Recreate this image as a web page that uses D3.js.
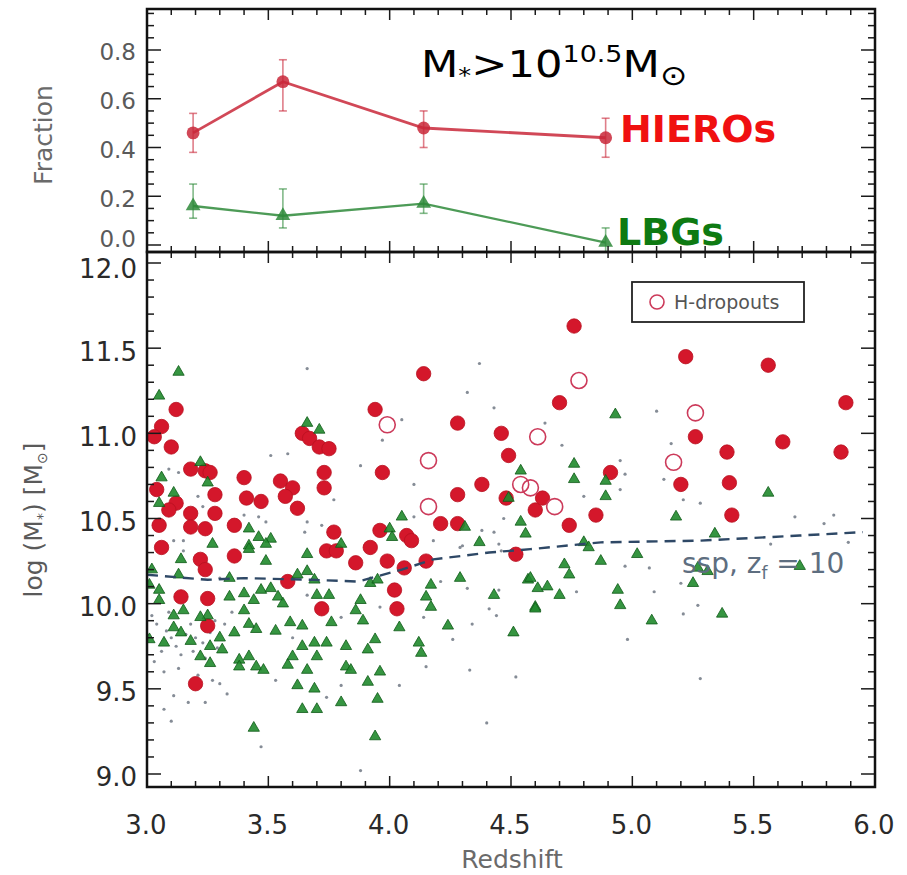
<!DOCTYPE html>
<html>
<head>
<meta charset="utf-8">
<script src="https://cdn.jsdelivr.net/npm/d3@7/dist/d3.min.js"></script>
<style>
  html, body { margin: 0; padding: 0; background: #ffffff; }
  svg { display: block; }
</style>
</head>
<body>
<svg id="chart" width="907" height="875"></svg>
<script>
// ---------- Top panel: fraction of massive galaxies per redshift bin ----------
const fracZ        = [3.19, 3.56, 4.14, 4.89];
const hieroFrac    = [0.46, 0.67, 0.48, 0.44];
const hieroFracLo  = [0.38, 0.55, 0.40, 0.36];
const hieroFracHi  = [0.54, 0.76, 0.55, 0.52];
const lbgFrac      = [0.16, 0.12, 0.17, 0.01];
const lbgFracLo    = [0.11, 0.07, 0.13, -0.03];
const lbgFracHi    = [0.25, 0.23, 0.25, 0.07];

// ---------- Bottom panel: stellar mass vs redshift, [z, log M*] ----------
const hieroPts = [
  [4.14,11.35],[3.12,11.14],[3.94,11.14],[4.28,11.06],[4.46,11.00],[3.06,11.04],[3.03,10.98],
  [3.10,10.92],[3.64,11.00],[3.67,10.97],[3.71,10.92],[3.75,10.91],[4.49,10.87],[3.18,10.79],
  [3.24,10.78],[3.26,10.77],[3.73,10.77],[3.97,10.77],[3.40,10.74],[3.55,10.72],[4.38,10.70],
  [3.60,10.68],[3.73,10.68],[3.04,10.67],[3.28,10.64],[4.28,10.64],[4.48,10.62],[3.41,10.62],
  [3.57,10.63],[3.47,10.60],[3.12,10.59],[3.09,10.55],[3.62,10.56],[3.18,10.53],[3.28,10.53],
  [4.60,10.55],[3.05,10.46],[3.18,10.45],[3.24,10.44],[3.36,10.46],[3.77,10.42],[3.96,10.43],
  [4.21,10.47],[4.28,10.47],[4.07,10.40],[4.09,10.37],[3.06,10.33],[3.92,10.33],[4.76,11.63],
  [5.22,11.45],[5.56,11.40],[5.88,11.18],[4.70,11.18],[5.26,10.98],[5.62,10.95],[5.39,10.89],
  [5.86,10.89],[4.91,10.77],[5.20,10.70],[5.40,10.71],[4.63,10.62],[4.85,10.52],[5.41,10.52],
  [4.74,10.46],[3.74,10.31],[3.78,10.31],[3.36,10.28],[3.22,10.26],[3.24,10.20],[3.86,10.24],
  [3.99,10.25],[4.15,10.25],[4.06,10.21],[4.52,10.29],[3.58,10.13],[4.02,10.08],[3.14,10.04],
  [3.25,10.03],[3.72,9.97],[4.03,9.97],[3.25,9.87],[3.20,9.53]
];

const hDropoutPts = [
  [3.99,11.05],[4.16,10.84],[4.16,10.57],[4.61,10.98],[4.54,10.70],[4.58,10.68],
  [4.78,11.31],[5.26,11.12],[5.17,10.83],[4.68,10.57]
];

const lbgPts = [
  [3.13,11.36],[3.05,11.22],[3.66,11.06],[3.71,11.02],[3.22,10.83],[3.06,10.74],[3.25,10.71],
  [3.11,10.65],[3.05,10.59],[4.54,10.78],[4.49,10.62],[4.05,10.51],[4.00,10.44],[4.31,10.45],
  [4.54,10.48],[4.56,10.41],[4.37,10.36],[3.42,10.44],[3.46,10.39],[3.51,10.38],[3.27,10.35],
  [3.49,10.35],[3.42,10.34],[3.80,10.35],[4.93,11.11],[4.76,10.82],[4.76,10.73],[4.89,10.72],
  [4.89,10.63],[5.56,10.65],[5.18,10.51],[5.34,10.41],[4.80,10.36],[3.66,10.29],[3.42,10.32],
  [3.14,10.26],[3.49,10.25],[3.13,10.17],[3.02,10.20],[3.01,10.11],[3.05,10.08],[3.34,10.15],
  [3.34,10.04],[3.40,10.06],[3.44,10.02],[3.47,10.08],[3.51,10.09],[3.54,10.04],[3.56,10.00],
  [3.62,10.17],[3.66,10.19],[3.69,10.14],[3.92,10.12],[3.95,10.14],[3.70,10.05],[3.75,10.05],
  [3.88,10.02],[3.86,9.96],[3.89,9.90],[3.76,9.89],[3.64,9.87],[3.59,9.89],[3.53,9.84],
  [3.40,9.96],[3.42,9.88],[3.45,9.85],[3.36,9.83],[3.30,9.80],[3.25,9.93],[3.22,9.92],
  [3.15,9.96],[3.11,9.93],[3.05,10.02],[3.01,9.79],[3.07,9.77],[3.11,9.86],[3.14,9.83],
  [3.18,9.78],[3.26,9.75],[3.22,9.69],[3.26,9.65],[3.31,9.73],[3.38,9.67],[3.42,9.69],
  [3.45,9.63],[3.48,9.61],[3.38,9.63],[3.58,9.64],[3.60,9.69],[3.64,9.75],[3.69,9.77],
  [3.74,9.77],[3.82,9.75],[3.70,9.69],[3.66,9.61],[3.82,9.63],[3.84,9.61],[3.91,9.73],
  [3.94,9.79],[3.96,9.60],[3.62,9.52],[3.69,9.50],[3.91,9.54],[3.80,9.42],[3.95,9.44],
  [3.64,9.38],[3.70,9.38],[3.44,9.27],[3.94,9.22],[4.04,9.86],[4.12,9.77],[4.13,9.71],
  [4.15,10.04],[4.17,9.98],[4.17,10.11],[4.29,10.15],[4.24,9.87],[4.43,10.05],[4.57,10.14],
  [4.60,9.98],[4.51,9.83],[4.01,10.39],[4.82,10.33],[4.87,10.25],[5.02,10.29],[4.72,10.23],
  [4.74,10.17],[4.58,10.15],[4.61,10.09],[4.65,10.10],[4.70,10.05],[4.60,9.97],[4.94,10.08],
  [4.95,9.99],[5.25,10.12],[5.27,10.21],[5.31,10.19],[5.08,9.90],[5.37,9.94],[5.69,10.22]
];

const allPts = [
  [3.66,11.38],[4.37,11.41],[4.32,11.24],[4.43,11.15],[4.05,11.08],[3.97,10.96],[3.51,10.87],
  [3.58,10.88],[3.88,10.81],[3.09,10.79],[3.13,10.77],[4.10,10.70],[3.21,10.63],[3.77,10.61],
  [3.23,10.57],[3.40,10.52],[3.46,10.51],[3.49,10.48],[3.66,10.48],[3.72,10.46],[4.38,10.43],
  [4.43,10.42],[4.10,10.51],[4.47,10.50],[3.15,10.37],[3.65,10.42],[4.18,10.37],[4.45,10.35],
  [4.30,10.34],[5.10,11.13],[4.64,11.06],[4.71,10.93],[5.16,10.94],[4.95,10.84],[4.97,10.76],
  [5.13,10.73],[4.95,10.67],[4.80,10.63],[5.21,10.61],[5.28,10.59],[5.67,10.51],[5.83,10.52],
  [5.79,10.47],[3.11,10.37],[3.15,10.31],[3.30,10.15],[3.47,9.16],[3.88,9.02],[4.40,9.30],
  [4.52,9.57],[4.33,9.61],[4.15,9.63],[4.04,9.52],[3.10,9.31],[3.07,9.38],[3.17,9.42],
  [3.24,9.42],[3.11,9.46],[3.33,9.47],[3.30,9.53],[3.53,9.55],[3.74,9.45],[3.80,9.52],
  [4.26,9.79],[4.34,9.88],[4.44,9.93],[4.41,9.97],[4.14,9.92],[4.32,10.09],[4.21,10.13],
  [4.46,10.31],[4.29,10.33],[3.80,9.92],[3.96,9.98],[3.66,10.05],[3.60,9.80],
  [3.04,9.88],[3.08,9.84],[3.10,9.80],[3.12,9.75],[3.16,9.82],[3.18,9.88],[3.20,9.80],
  [3.23,9.77],[3.26,9.83],[3.28,9.90],[3.14,9.70],[3.06,9.72],[3.02,9.93],[3.09,9.95],
  [3.19,9.72],[3.24,9.68],[3.29,9.74],[3.32,9.88],[3.35,9.95],[3.13,9.62],[3.07,9.60],
  [3.03,9.66],[3.21,9.58],[3.27,9.55],
  [5.89,10.36],[5.57,10.35],[4.97,10.22],[5.07,10.21],[4.77,10.07],[5.09,10.07],[5.20,10.12],
  [5.21,9.94],[5.27,9.99],[4.98,9.79],[5.28,9.56],[4.45,10.08]
];

// Single stellar population track, formation redshift 10
const sspZ = [3.00, 3.25, 3.40, 3.68, 3.87, 4.05, 4.18, 4.41, 4.58, 4.87, 5.28, 5.69, 5.95];
const sspM = [10.17, 10.14, 10.15, 10.14, 10.13, 10.20, 10.26, 10.30, 10.32, 10.36, 10.37, 10.40, 10.42];

// Axis ticks
const xTickVals    = [3.0, 3.5, 4.0, 4.5, 5.0, 5.5, 6.0];
const fracTickVals = [0.0, 0.2, 0.4, 0.6, 0.8];
const massTickVals = [9.0, 9.5, 10.0, 10.5, 11.0, 11.5, 12.0];

// ---------- Layout ----------
const svg = d3.select("#chart");
const L = 147, R = 875;
const topY0 = 9, topY1 = 252;      // fraction panel frame
const botY0 = 252, botY1 = 787;    // mass panel frame

const x  = d3.scaleLinear().domain([3, 6]).range([L, R]);
const yF = d3.scaleLinear().domain([0, 0.8]).range([245, 50]);
const yM = d3.scaleLinear().domain([9, 12]).range([774, 263]);

const AXIS_FONT = "'DejaVu Sans', sans-serif";
const RED = "#d4172b", GREEN = "#208a2c";

const defs = svg.append("defs");
defs.append("clipPath").attr("id", "clipTop")
  .append("rect").attr("x", L).attr("y", topY0).attr("width", R - L).attr("height", topY1 - topY0);
defs.append("clipPath").attr("id", "clipBot")
  .append("rect").attr("x", L).attr("y", botY0).attr("width", R - L).attr("height", botY1 - botY0);

// Inward ticks on all four sides of a panel
function panelTicks(g, yScale, y0, y1, yMajorStep, yMinorStep) {
  const xMinor = d3.range(30, 61).map(v => v / 10);
  xMinor.forEach(v => {
    const major = Math.abs(v * 2 - Math.round(v * 2)) < 1e-6;
    const len = major ? 11 : 6;
    g.append("line").attr("x1", x(v)).attr("x2", x(v)).attr("y1", y1).attr("y2", y1 - len);
    g.append("line").attr("x1", x(v)).attr("x2", x(v)).attr("y1", y0).attr("y2", y0 + len);
  });
  const vLo = yScale.invert(y1), vHi = yScale.invert(y0);
  const n0 = Math.ceil(vLo / yMinorStep - 1e-6), n1 = Math.floor(vHi / yMinorStep + 1e-6);
  for (let i = n0; i <= n1; i++) {
    const v = i * yMinorStep;
    const r = v / yMajorStep;
    const major = Math.abs(r - Math.round(r)) < 1e-6;
    const len = major ? 14 : 7;
    const yy = yScale(v);
    if (yy <= y0 + 1 || yy >= y1 - 1) continue;
    g.append("line").attr("x1", L).attr("x2", L + len).attr("y1", yy).attr("y2", yy);
    g.append("line").attr("x1", R).attr("x2", R - len).attr("y1", yy).attr("y2", yy);
  }
}

// ---------- Top panel ----------
const gTop = svg.append("g");
const gTopData = gTop.append("g").attr("clip-path", "url(#clipTop)");

function fracSeries(vals, lo, hi, color, symbolType, symSize, lineW) {
  const line = d3.line().x((d, i) => x(fracZ[i])).y(d => yF(d));
  gTopData.append("path").datum(vals).attr("d", line)
    .attr("fill", "none").attr("stroke", color).attr("stroke-width", lineW).attr("stroke-opacity", 0.85);
  const eb = gTopData.append("g").attr("stroke", color).attr("stroke-width", 1.6).attr("stroke-opacity", 0.6);
  vals.forEach((v, i) => {
    const cx = x(fracZ[i]);
    eb.append("line").attr("x1", cx).attr("x2", cx).attr("y1", yF(lo[i])).attr("y2", yF(hi[i]));
    eb.append("line").attr("x1", cx - 4).attr("x2", cx + 4).attr("y1", yF(lo[i])).attr("y2", yF(lo[i]));
    eb.append("line").attr("x1", cx - 4).attr("x2", cx + 4).attr("y1", yF(hi[i])).attr("y2", yF(hi[i]));
  });
  gTopData.selectAll(null).data(vals).enter().append("path")
    .attr("d", d3.symbol().type(symbolType).size(symSize))
    .attr("transform", (d, i) => `translate(${x(fracZ[i])},${yF(d)})`)
    .attr("fill", color).attr("fill-opacity", 0.85);
}
fracSeries(hieroFrac, hieroFracLo, hieroFracHi, "#c9283a", d3.symbolCircle, 130, 2.8);
fracSeries(lbgFrac, lbgFracLo, lbgFracHi, "#2e8a3a", d3.symbolTriangle, 95, 2.3);

const gTopAxes = gTop.append("g").attr("stroke", "#1a1a1a").attr("stroke-width", 1.5);
panelTicks(gTopAxes, yF, topY0, topY1, 0.2, 0.05);
gTop.append("rect").attr("x", L).attr("y", topY0).attr("width", R - L).attr("height", topY1 - topY0)
  .attr("fill", "none").attr("stroke", "#111").attr("stroke-width", 2.5);

// fraction tick labels; the lowest one is lifted clear of the mass axis label below it
gTop.selectAll("text.fy").data(fracTickVals).enter().append("text")
  .attr("class", "fy")
  .attr("x", 136).attr("y", d => yF(d) + (d === 0 ? -6 : 2))
  .attr("dy", "0.36em").attr("text-anchor", "end")
  .attr("font-family", AXIS_FONT).attr("font-size", 23).attr("fill", "#5a5a5a")
  .text(d => d.toFixed(1));

gTop.append("text")
  .attr("transform", `translate(52,${135}) rotate(-90)`)
  .attr("text-anchor", "middle")
  .attr("font-family", AXIS_FONT).attr("font-size", 25).attr("fill", "#6a6a6a")
  .text("Fraction");

// Mass threshold annotation
const title = gTop.append("text")
  .attr("transform", "translate(421,77) scale(1.17,1)")
  .attr("font-family", "'DejaVu Sans', sans-serif").attr("font-size", 37).attr("fill", "#000");
title.append("tspan").text("M");
title.append("tspan").attr("font-size", 22).attr("dy", 6).text("*");
title.append("tspan").attr("dy", -6).text(">10");
title.append("tspan").attr("font-size", 23).attr("dy", -15).text("10.5");
title.append("tspan").attr("dy", 15).text("M");
title.append("tspan").attr("font-size", 28).attr("dy", 8).text("\u2299");

gTop.append("text").attr("x", 620).attr("y", 142)
  .attr("font-family", "'DejaVu Sans', sans-serif").attr("font-weight", "bold")
  .attr("font-size", 38).attr("fill", "#f01010").text("HIEROs");
gTop.append("text").attr("x", 617).attr("y", 245)
  .attr("font-family", "'DejaVu Sans', sans-serif").attr("font-weight", "bold")
  .attr("font-size", 38).attr("fill", "#0e7a12").text("LBGs");

// ---------- Bottom panel ----------
const gBot = svg.append("g");
const gBotData = gBot.append("g").attr("clip-path", "url(#clipBot)");

gBotData.selectAll("circle.all").data(allPts).enter().append("circle")
  .attr("class", "all")
  .attr("cx", d => x(d[0])).attr("cy", d => yM(d[1])).attr("r", 1.6)
  .attr("fill", "#707884").attr("fill-opacity", 0.85);

gBotData.selectAll("circle.hiero").data(hieroPts).enter().append("circle")
  .attr("class", "hiero")
  .attr("cx", d => x(d[0])).attr("cy", d => yM(d[1])).attr("r", 7.2)
  .attr("fill", RED).attr("stroke", "#b8101f").attr("stroke-width", 0.8);

gBotData.selectAll("path.lbg").data(lbgPts).enter().append("path")
  .attr("class", "lbg")
  .attr("d", d3.symbol().type(d3.symbolTriangle).size(55))
  .attr("transform", d => `translate(${x(d[0])},${yM(d[1])})`)
  .attr("fill", GREEN).attr("fill-opacity", 0.9)
  .attr("stroke", "#0f5a18").attr("stroke-width", 0.8);

gBotData.selectAll("circle.hdrop").data(hDropoutPts).enter().append("circle")
  .attr("class", "hdrop")
  .attr("cx", d => x(d[0])).attr("cy", d => yM(d[1])).attr("r", 8)
  .attr("fill", "none").attr("stroke", "#cc3a5a").attr("stroke-width", 1.6);

const sspLine = d3.line().x((d, i) => x(sspZ[i])).y(d => yM(d));
gBotData.append("path").datum(sspM).attr("d", sspLine)
  .attr("fill", "none").attr("stroke", "#2e4866").attr("stroke-width", 2.4)
  .attr("stroke-dasharray", "11,7");

const sspLabel = gBot.append("text").attr("x", 682).attr("y", 573)
  .attr("font-family", AXIS_FONT).attr("font-size", 28).attr("fill", "#5e6e80");
sspLabel.append("tspan").text("ssp, z");
sspLabel.append("tspan").attr("font-size", 17).attr("dy", 6).text("f");
sspLabel.append("tspan").attr("dy", -6).text(" = 10");

// Legend
const leg = gBot.append("g");
leg.append("rect").attr("x", 632).attr("y", 282).attr("width", 172).attr("height", 40)
  .attr("fill", "#fff").attr("stroke", "#222").attr("stroke-width", 1.8);
leg.append("circle").attr("cx", 657).attr("cy", 302).attr("r", 7)
  .attr("fill", "none").attr("stroke", "#cc3a5a").attr("stroke-width", 1.6);
leg.append("text").attr("x", 674).attr("y", 302).attr("dy", "0.36em")
  .attr("font-family", AXIS_FONT).attr("font-size", 19).attr("fill", "#555")
  .text("H-dropouts");

const gBotAxes = gBot.append("g").attr("stroke", "#1a1a1a").attr("stroke-width", 1.5);
panelTicks(gBotAxes, yM, botY0, botY1, 0.5, 0.1);
gBot.append("rect").attr("x", L).attr("y", botY0).attr("width", R - L).attr("height", botY1 - botY0)
  .attr("fill", "none").attr("stroke", "#111").attr("stroke-width", 2.5);

gBot.selectAll("text.my").data(massTickVals).enter().append("text")
  .attr("class", "my")
  .attr("x", 137).attr("y", d => yM(d) + (d === 12 ? 6 : 3))
  .attr("dy", "0.36em").attr("text-anchor", "end")
  .attr("font-family", AXIS_FONT).attr("font-size", 26).attr("fill", "#2a2a2a")
  .text(d => d.toFixed(1));

gBot.selectAll("text.xt").data(xTickVals).enter().append("text")
  .attr("class", "xt")
  .attr("x", d => x(d) - 1).attr("y", 834)
  .attr("text-anchor", "middle")
  .attr("font-family", AXIS_FONT).attr("font-size", 26).attr("fill", "#2a2a2a")
  .text(d => d.toFixed(1));

gBot.append("text").attr("x", 512).attr("y", 868).attr("text-anchor", "middle")
  .attr("font-family", AXIS_FONT).attr("font-size", 25).attr("fill", "#6a6a6a")
  .text("Redshift");

const ylab = gBot.append("text")
  .attr("transform", `translate(42,${520}) rotate(-90)`)
  .attr("text-anchor", "middle")
  .attr("font-family", AXIS_FONT).attr("font-size", 25).attr("fill", "#5a5a5a");
ylab.append("tspan").text("log (M");
ylab.append("tspan").attr("font-size", 14).attr("dy", 5).text("*");
ylab.append("tspan").attr("dy", -5).text(") [M");
ylab.append("tspan").attr("font-size", 14).attr("dy", 5).text("\u2299");
ylab.append("tspan").attr("dy", -5).text("]");
</script>
</body>
</html>
